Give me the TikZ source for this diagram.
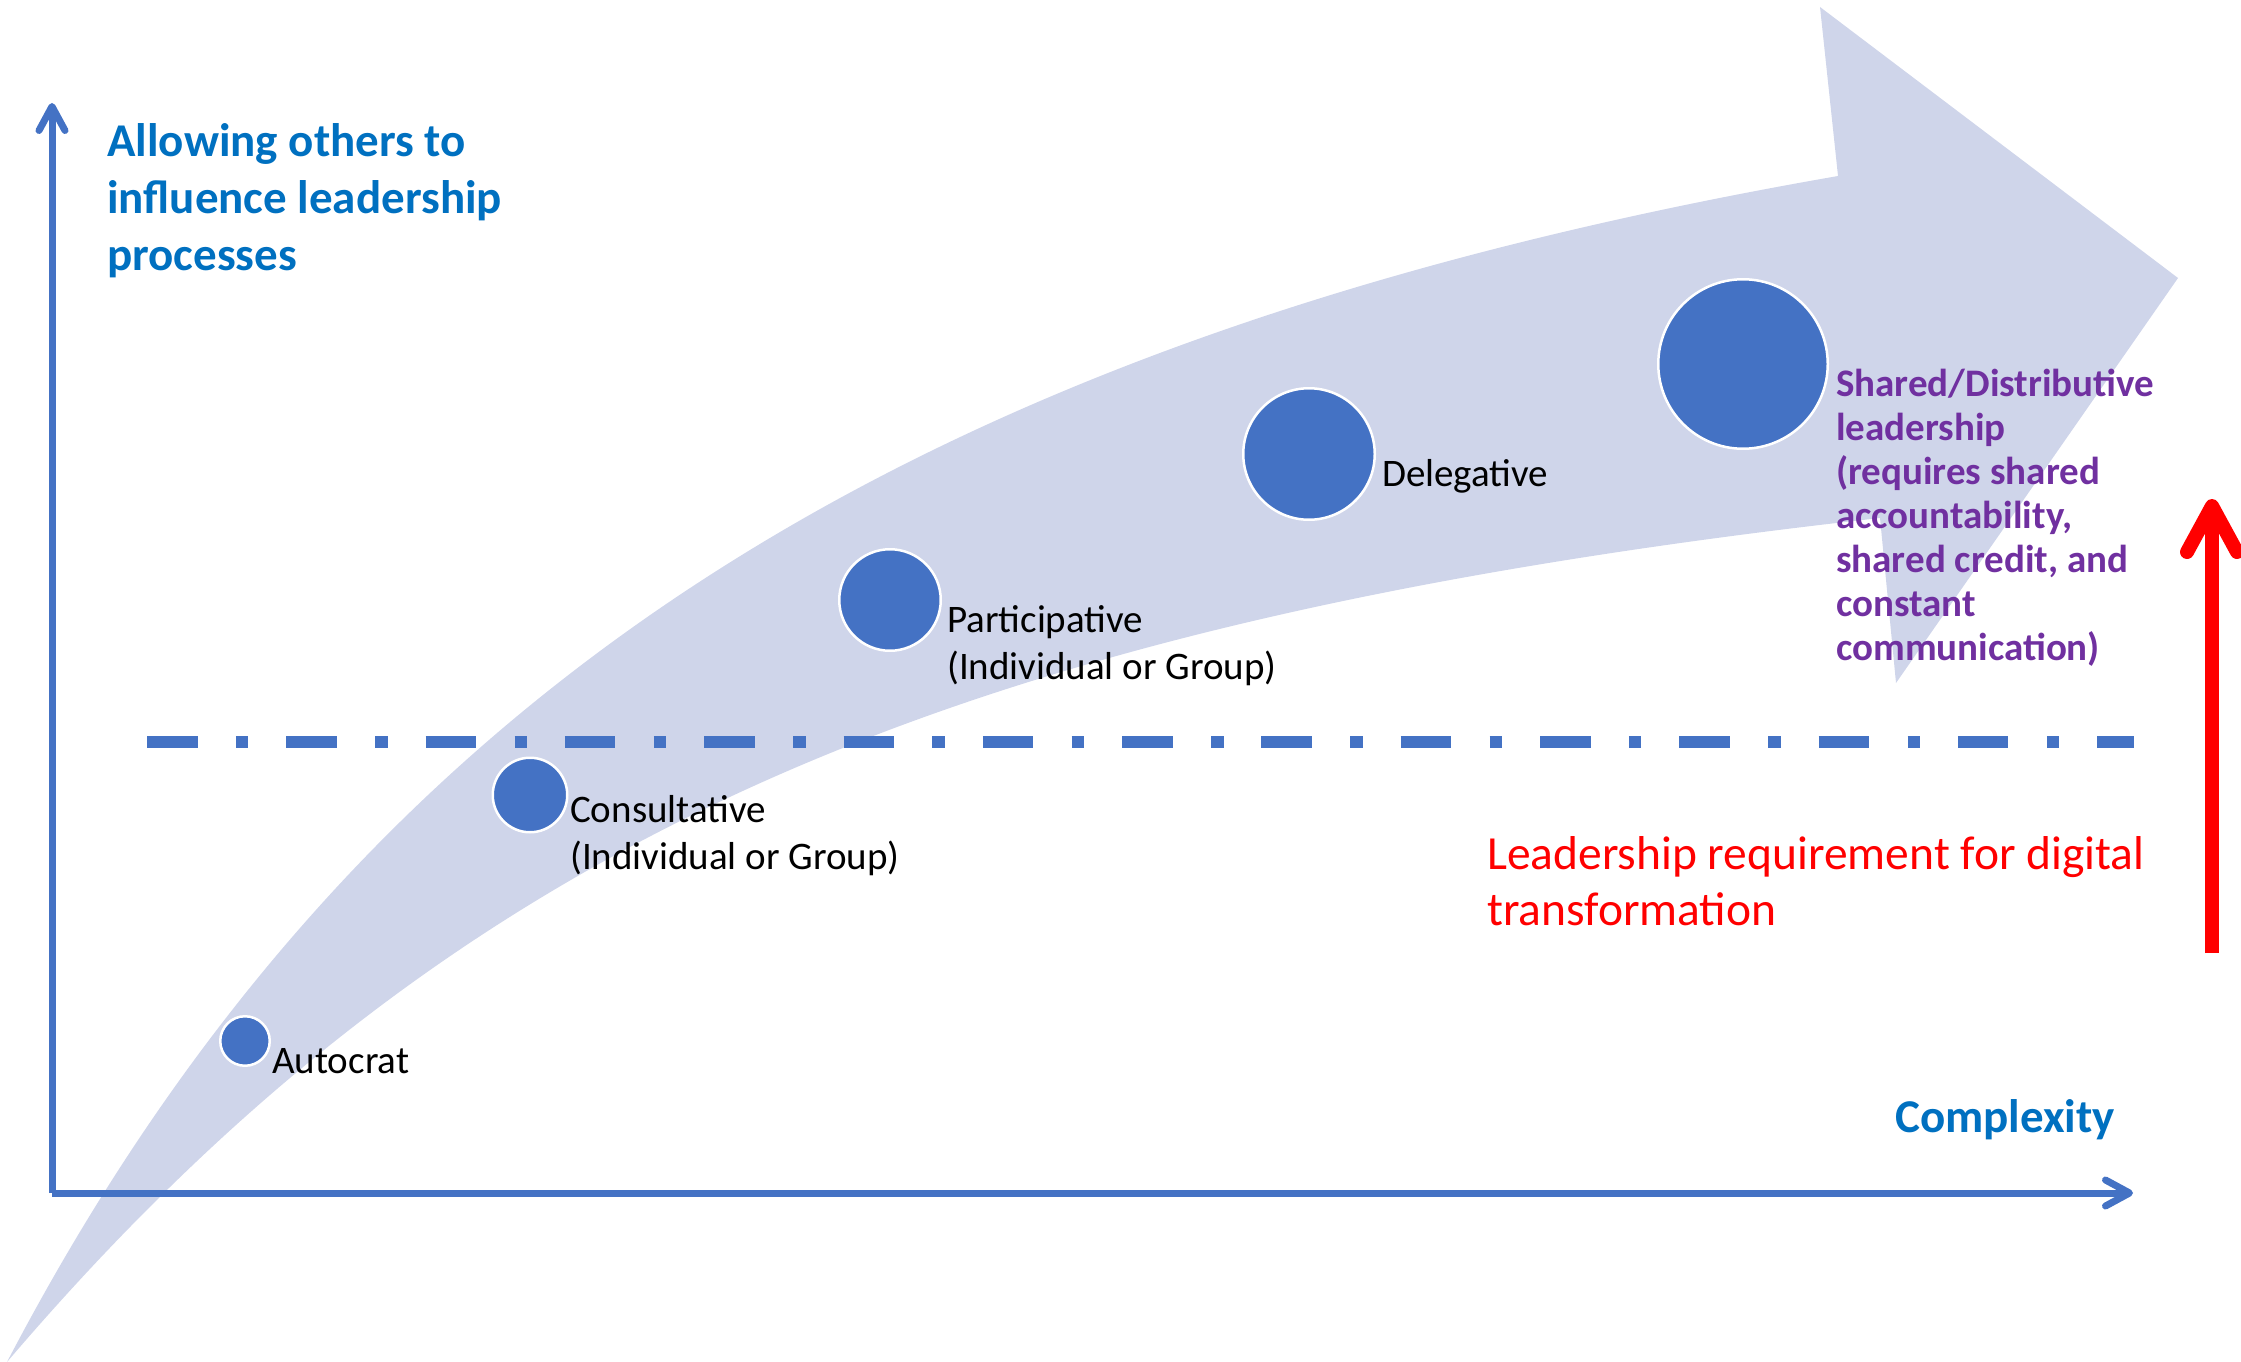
\documentclass[tikz,border=0pt]{standalone}
\usepackage{fontspec}
\setmainfont{Carlito}
\usetikzlibrary{arrows.meta}
\definecolor{axisblue}{RGB}{68,114,196}
\definecolor{bandfill}{RGB}{207,213,234}
\definecolor{labelblue}{RGB}{0,112,192}
\definecolor{sharedpurple}{RGB}{112,48,160}
\definecolor{alertred}{RGB}{255,0,0}
\newcommand{\drawaxis}{\draw[axisblue,line width=7pt,-{Straight Barb[length=24pt,width=26pt,round]}]}
\newcommand{\bubble}[4]{\node[circle,fill=axisblue,draw=white,line width=2.5pt,inner sep=0pt,minimum size=#4pt] (#1) at (#2,#3) {};}
\newcommand{\stagetext}[4]{\node[anchor=base west,inner sep=0pt,align=left,font=\fontsize{39}{47}\selectfont] (#1) at (#2,#3) {#4};}

\begin{document}
\begin{tikzpicture}[x=1pt,y=-1pt]
\useasboundingbox (0,0) rectangle (2241,1362);
% curved band with its head
\fill[bandfill] (7,1362) .. controls (356,694) and (905,338) .. (1838,176) -- (1820,7) -- (2178,278) -- (1896,683) -- (1880,518) .. controls (950,622) and (456,836) .. (7,1362) -- cycle;
\draw[axisblue,line width=12.5pt,dash pattern=on 50.5pt off 38.4pt on 12.5pt off 37.9pt] (147,742)--(2134,742);
\coordinate (origin) at (52,1193); \coordinate (ytop) at (52,103); \coordinate (xend) at (2133,1193);
\drawaxis (origin)--(ytop);
\drawaxis (origin)--(xend);
\coordinate (redfoot) at (2212,953); \coordinate (redtop) at (2212,499);
\draw[alertred,line width=14pt,-{Straight Barb[length=46pt,width=50pt,round]}] (redfoot)--(redtop);
\bubble{autocrat}{245}{1041}{49.5}\bubble{consultative}{530}{795}{74.5}\bubble{participative}{890}{600}{101.5}\bubble{delegative}{1309}{454}{131.5}\bubble{shared}{1743}{364}{169.5}
% multi-line texts sit on the baseline of their last line
\stagetext{autocrat-text}{272}{1073}{Autocrat}
\stagetext{consultative-text}{570}{869}{Consultative\\(Individual or Group)}
\stagetext{participative-text}{947}{679}{Participative\\(Individual or Group)}
\stagetext{delegative-text}{1382}{486}{Delegative}
\node[anchor=base west,inner sep=0pt,align=left,text=sharedpurple,font=\bfseries\fontsize{39}{44}\selectfont] (shared-text) at (1836,660) {Shared/Distributive\\leadership\\(requires shared\\accountability,\\shared credit, and\\constant\\communication)};
\node[anchor=base west,inner sep=0pt,align=left,text=labelblue,font=\bfseries\fontsize{47}{57}\selectfont] (ylabel) at (107,270) {Allowing others to\\influence leadership\\processes};
\node[anchor=base west,inner sep=0pt,text=labelblue,font=\bfseries\fontsize{47}{55}\selectfont] (xlabel) at (1895,1132) {Complexity};
\node[anchor=base west,inner sep=0pt,align=left,text=alertred,font=\fontsize{47.5}{56}\selectfont] (requirement) at (1487,925) {Leadership requirement for digital\\transformation};
\end{tikzpicture}
\end{document}
